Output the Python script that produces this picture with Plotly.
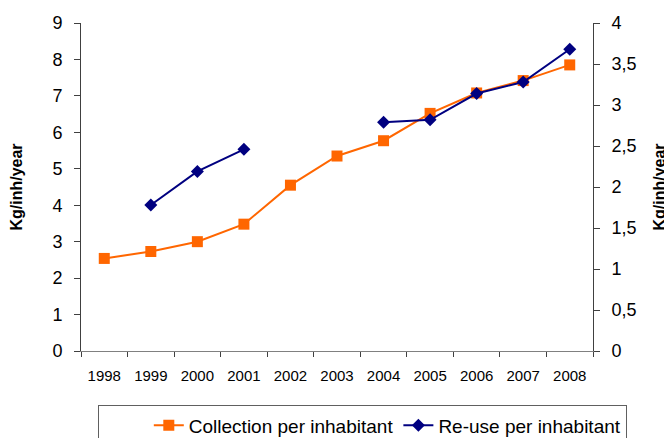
import plotly.graph_objects as go

years = ["1998", "1999", "2000", "2001", "2002", "2003", "2004", "2005", "2006", "2007", "2008"]
collection = [2.54, 2.73, 3.0, 3.48, 4.55, 5.35, 5.77, 6.52, 7.08, 7.42, 7.85]
reuse = [None, 1.78, 2.19, 2.46, None, None, 2.79, 2.82, 3.14, 3.28, 3.68]

fig = go.Figure()
fig.add_trace(go.Scatter(
    x=years, y=collection, name="Collection per inhabitant", mode="lines+markers",
    line=dict(color="#FF6600", width=2),
    marker=dict(symbol="square", size=11, color="#FF6600"),
    yaxis="y"))
fig.add_trace(go.Scatter(
    x=years, y=reuse, name="Re-use per inhabitant", mode="lines+markers",
    line=dict(color="#000080", width=2),
    marker=dict(symbol="diamond", size=10, color="#000080"),
    connectgaps=False, yaxis="y2"))

font = "Liberation Sans, Arial, sans-serif"
axcol = "#404040"
fig.update_layout(
    width=664, height=430,
    margin=dict(l=73, r=79, t=15, b=87, autoexpand=False),
    paper_bgcolor="white", plot_bgcolor="white",
    separators=", ",
    font=dict(family=font, color="#000000"),
    showlegend=True,
    legend=dict(orientation="h", x=1.066, xanchor="right", y=-0.166, yanchor="top",
                bordercolor="#606060", borderwidth=1, font=dict(size=19),
                title=dict(text="&nbsp;" * 12, side="left", font=dict(size=12))),
    xaxis=dict(type="category", range=[-0.5, 10.5], tickson="boundaries", ticks="outside", ticklen=5,
               showline=True, linecolor="#808080", linewidth=1, showgrid=False,
               tickfont=dict(size=15), tickcolor=axcol, ticklabelstandoff=11),
    yaxis=dict(range=[0, 9], dtick=1, ticks="outside", ticklen=6, showline=True,
               linecolor=axcol, tickcolor=axcol, showgrid=False, zeroline=False,
               tickfont=dict(size=18), ticklabelstandoff=8,
               title=dict(text="<b>Kg/inh/year</b>", font=dict(size=16), standoff=30)),
    yaxis2=dict(range=[0, 4], dtick=0.5, ticks="outside", ticklen=6, showline=True,
                linecolor=axcol, tickcolor=axcol, showgrid=False, zeroline=False,
                overlaying="y", side="right", tickfont=dict(size=18), ticklabelstandoff=8,
                title=dict(text="<b>Kg/inh/year</b>", font=dict(size=16), standoff=18)),
    yaxis3=dict(range=[0, 9], dtick=1, ticks="inside", ticklen=6, showline=False,
                tickcolor=axcol, showgrid=False, zeroline=False, showticklabels=False,
                overlaying="y", side="left"),
    yaxis4=dict(range=[0, 4], dtick=0.5, ticks="inside", ticklen=6, showline=False,
                tickcolor=axcol, showgrid=False, zeroline=False, showticklabels=False,
                overlaying="y", side="right"),
)

fig.write_html("out.html")
